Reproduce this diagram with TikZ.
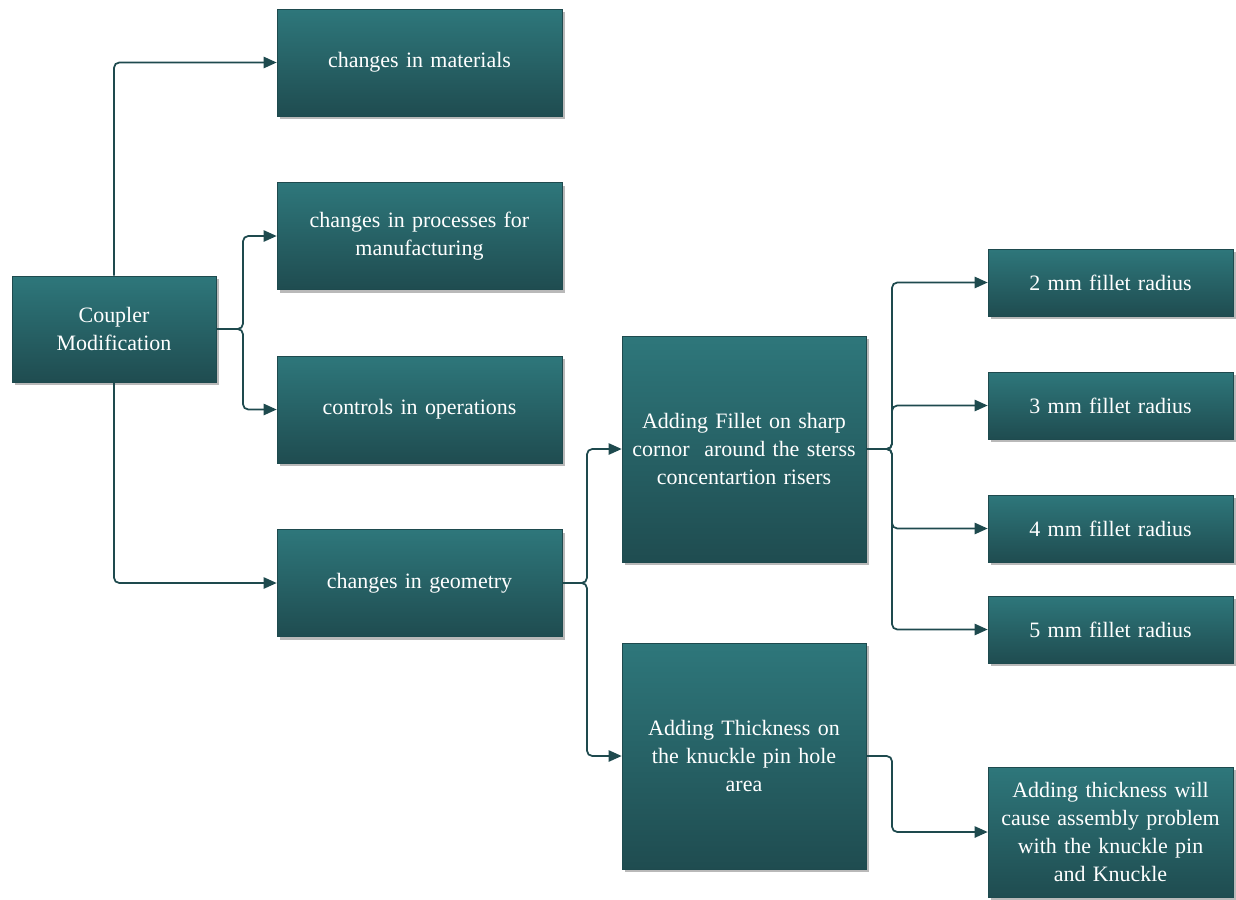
\documentclass[tikz,border=0pt]{standalone}
\usepackage{fontspec}
\setmainfont{Liberation Serif}
\usetikzlibrary{arrows.meta,shadows}
\definecolor{boxtop}{HTML}{2E777B}
\definecolor{boxbot}{HTML}{1F4C50}
\definecolor{linkcol}{HTML}{1E4A4E}
\tikzset{
  box/.style={rectangle, draw=linkcol, line width=0.4pt,
    top color=boxtop, bottom color=boxbot, text=white,
    align=center, inner sep=2pt,
    font=\fontsize{12.5}{15.9}\selectfont,
    drop shadow={shadow xshift=1.8pt, shadow yshift=-1.8pt, opacity=0.55}},
  wide/.style={box, minimum width=5.7cm, minimum height=2.14cm, text width=5.4cm},
  tall/.style={box, minimum width=4.88cm, minimum height=4.52cm, text width=4.6cm},
  small/.style={box, minimum width=4.9cm, minimum height=1.34cm, text width=4.6cm},
  link/.style={draw=linkcol, line width=1pt, rounded corners=3pt,
    -{Triangle[length=7.5pt,width=6.5pt]}}
}
\begin{document}
\begin{tikzpicture}[x=0.02cm, y=-0.02cm]
\useasboundingbox (0,0) rectangle (1236,899);
% root of the diagram
\node[box, minimum width=4.08cm, minimum height=2.12cm, text width=3.8cm]
  (root) at (114,329) {Coupler\\Modification};
% first level
\node[wide] (mat) at (419.5,62.5) {changes in materials};
\node[wide] (proc) at (419.5,236) {changes in processes for\\manufacturing};
\node[wide] (ctrl) at (419.5,409.5) {controls in operations};
\node[wide] (geom) at (419.5,583) {changes in geometry};
% second level
\node[tall] (fillet) at (744,449) {Adding Fillet on sharp\\cornor\ \ around the sterss\\concentartion risers};
\node[tall] (thick) at (744,756) {Adding Thickness on\\the knuckle pin hole\\area};
% third level
\node[small] (r2) at (1110.5,282.5) {2 mm fillet radius};
\node[small] (r3) at (1110.5,405.5) {3 mm fillet radius};
\node[small] (r4) at (1110.5,528.5) {4 mm fillet radius};
\node[small] (r5) at (1110.5,629.5) {5 mm fillet radius};
\node[small, minimum height=2.6cm] (prob) at (1110.5,832)
  {Adding thickness will\\cause assembly problem\\with the knuckle pin\\and Knuckle};
% branch points
\coordinate (j1) at (243,329);
\coordinate (j2) at (587,583);
\coordinate (j3) at (892,449);
\coordinate (j4) at (892,756);
% connectors
\draw[link] (root.north) |- (mat.west);
\draw[link] (root.south) |- (geom.west);
\draw[link] (root.east) -- (j1) |- (proc.west);
\draw[link] (root.east) -- (j1) |- (ctrl.west);
\draw[link] (geom.east) -- (j2) |- (fillet.west);
\draw[link] (geom.east) -- (j2) |- (thick.west);
\foreach \r in {r2,r3,r4,r5}
  \draw[link] (fillet.east) -- (j3) |- (\r.west);
\draw[link] (thick.east) -- (j4) |- (prob.west);
\end{tikzpicture}
\end{document}
